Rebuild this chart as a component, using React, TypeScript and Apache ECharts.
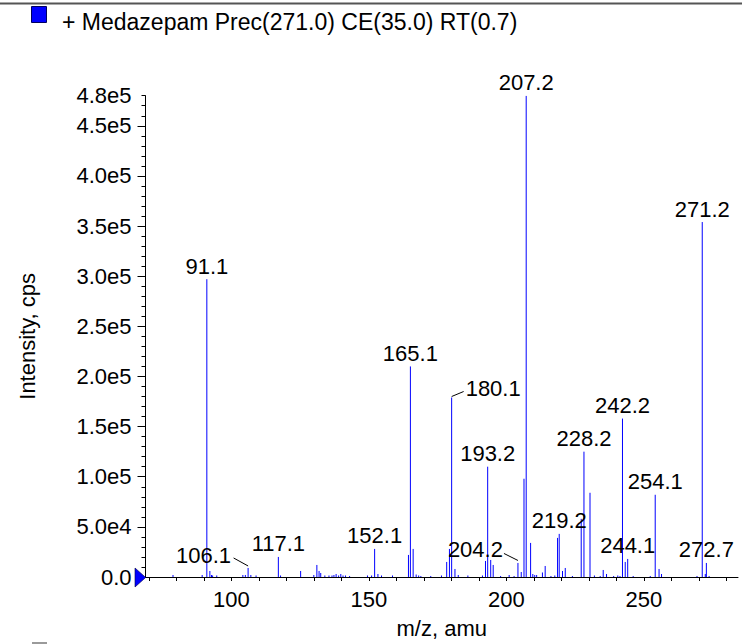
import React, { useEffect, useRef } from "react";
import * as echarts from "echarts";

// Peak list (m/z, intensity in cps)
const mz = [
  78.8, 89.4, 91.1, 92.2, 92.8, 93.2, 94.7, 104.2, 105.1, 106.1, 107.1, 109.0,
  117.1, 117.9, 125.2, 130.0, 131.1, 131.9, 132.5, 134.0, 135.5, 136.6, 137.3,
  138.1, 139.0, 139.8, 140.6, 141.5, 143.0, 149.5, 151.0, 152.1, 153.3, 154.6,
  158.6, 164.4, 165.1, 166.1, 167.2, 168.1, 168.9, 172.5, 176.4, 178.3, 179.3,
  180.1, 181.3, 182.5, 186.0, 191.3, 192.4, 193.2, 194.3, 195.2, 197.9, 201.0,
  202.8, 204.2, 205.4, 206.4, 207.2, 208.8, 209.6, 210.3, 211.0, 213.1, 214.1,
  216.2, 217.6, 218.6, 219.2, 220.4, 221.4, 224.0, 227.2, 228.2, 230.4, 232.0,
  234.1, 235.2, 236.4, 239.0, 240.5, 241.3, 242.2, 243.2, 244.1, 246.1, 252.3,
  254.1, 255.5, 256.4, 269.3, 271.2, 272.3, 272.7, 273.7,
];
const intensity = [
  2000, 2000, 297000, 6000, 2000, 1500, 1500, 2000, 2000, 9000, 2000, 1500,
  20000, 1500, 6000, 2000, 12000, 6000, 4000, 1500, 1500, 1500, 2000,
  3000, 1500, 3000, 1500, 1500, 1000, 1500, 1500, 28000, 3000, 1500,
  1500, 22000, 210000, 28000, 2500, 1500, 1000, 1000, 1500, 15000, 28000,
  179000, 8000, 2000, 1500, 1500, 16000, 110000, 17000, 12000, 1000, 2000,
  1000, 14000, 5000, 98000, 480000, 34000, 3000, 2000, 2000, 4500, 11000,
  1000, 1500, 39000, 43000, 6000, 9000, 1000, 58000, 125000, 84000, 1500,
  1000, 7000, 3000, 1000, 1500, 1000, 158000, 15000, 18000, 1000, 1000,
  82000, 8000, 3000, 1000, 354000, 3000, 14000, 1000,
];

// Annotated peaks
const labelMz = [91.1, 106.1, 117.1, 152.1, 165.1, 180.1, 193.2, 204.2, 207.2, 219.2, 228.2, 242.2, 244.1, 254.1, 271.2, 272.7];
const labelText = ["91.1", "106.1", "117.1", "152.1", "165.1", "180.1", "193.2", "204.2", "207.2", "219.2", "228.2", "242.2", "244.1", "254.1", "271.2", "272.7"];

// Axis ticks / labels
const xTickValues = [70, 80, 90, 100, 110, 120, 130, 140, 150, 160, 170, 180, 190, 200, 210, 220, 230, 240, 250, 260, 270, 280];
const xLabelValues = [100, 150, 200, 250];
const yMinorTicks = Array.from({ length: 49 }, (_, i) => i * 10000);
const yMajorTicks = [0, 50000, 100000, 150000, 200000, 250000, 300000, 350000, 400000, 450000];
const yLabelValues = [0, 50000, 100000, 150000, 200000, 250000, 300000, 350000, 400000, 450000, 480000];
const yLabelText = ["0.0", "5.0e4", "1.0e5", "1.5e5", "2.0e5", "2.5e5", "3.0e5", "3.5e5", "4.0e5", "4.5e5", "4.8e5"];

const title = "+ Medazepam Prec(271.0) CE(35.0) RT(0.7)";

const FONT = '"Liberation Sans", Arial, Helvetica, sans-serif';

// label placement styles (pixel offsets from peak top)
const leaderStyle: Record<string, { tx: number; ty: number; align: string; l: number[] }> = {
  "106.1": { tx: -17, ty: -12, align: "right", l: [-14.5, -10, 0, -2] },
  "204.2": { tx: -15, ty: -13, align: "right", l: [-14, -9.5, 0, -2.5] },
  "180.1": { tx: 14, ty: -9, align: "left", l: [0, -1, 12, -6] },
};

export default function App() {
  const ref = useRef<HTMLDivElement>(null);
  useEffect(() => {
    if (!ref.current) return;
    const chart = echarts.init(ref.current, undefined, { renderer: "svg" });
    const peaks = mz.map((m, i) => [m, intensity[i]]);
    const labels = labelMz.map((m, i) => {
      let best = 0;
      mz.forEach((v, j) => {
        if (Math.abs(v - m) < Math.abs(mz[best] - m)) best = j;
      });
      return [m, intensity[best], labelText[i]];
    });
    const axisFont = { fontSize: 22, fontFamily: FONT, color: "#000" };
    chart.setOption({
      animation: false,
      grid: { left: 145.5, right: 4, top: 95.7, bottom: 62 },
      xAxis: {
        type: "value",
        min: 68.8,
        max: 284.2,
        axisLine: { show: true, lineStyle: { color: "#000", width: 1 } },
        axisTick: { show: true, customValues: xTickValues, length: 4, lineStyle: { color: "#000" } },
        axisLabel: { customValues: xLabelValues, margin: 11, ...axisFont },
        splitLine: { show: false },
        name: "m/z, amu",
        nameLocation: "middle",
        nameGap: 40,
        nameTextStyle: axisFont,
      },
      yAxis: [
        {
          type: "value",
          min: 0,
          max: 480000,
          position: "left",
          axisLine: { show: true, lineStyle: { color: "#000", width: 1 } },
          axisTick: { show: true, customValues: yMinorTicks, length: 4, lineStyle: { color: "#000" } },
          axisLabel: { show: false },
          splitLine: { show: false },
          name: "Intensity, cps",
          nameLocation: "middle",
          nameGap: 107,
          nameTextStyle: axisFont,
        },
        {
          type: "value",
          min: 0,
          max: 480000,
          position: "left",
          axisLine: { show: false },
          axisTick: { show: true, customValues: yMajorTicks, length: 8, lineStyle: { color: "#000" } },
          axisLabel: {
            customValues: yLabelValues,
            margin: 14,
            formatter: (v: number) => {
              const k = yLabelValues.indexOf(v);
              return k >= 0 ? yLabelText[k] : "";
            },
            ...axisFont,
          },
          splitLine: { show: false },
        },
      ],
      series: [
        {
          type: "custom",
          data: peaks,
          clip: true,
          renderItem: (params: any, api: any) => {
            const x = api.value(0);
            const y = api.value(1);
            const p0 = api.coord([x, 0]);
            const p1 = api.coord([x, y]);
            return {
              type: "line",
              shape: { x1: p0[0], y1: p0[1], x2: p1[0], y2: p1[1] },
              style: { stroke: "#0000ff", lineWidth: 1 },
            };
          },
        },
        {
          type: "custom",
          data: labels,
          renderItem: (params: any, api: any) => {
            const x = api.value(0);
            const y = api.value(1);
            const txt = labelText[params.dataIndex];
            const p = api.coord([x, y]);
            const ls = leaderStyle[txt];
            if (ls) {
              return {
                type: "group",
                children: [
                  {
                    type: "line",
                    shape: { x1: p[0] + ls.l[0], y1: p[1] + ls.l[1], x2: p[0] + ls.l[2], y2: p[1] + ls.l[3] },
                    style: { stroke: "#000", lineWidth: 1 },
                  },
                  {
                    type: "text",
                    x: p[0] + ls.tx,
                    y: p[1] + ls.ty,
                    style: {
                      text: txt,
                      font: `22px ${FONT}`,
                      fill: "#000",
                      align: ls.align,
                      textAlign: ls.align,
                      verticalAlign: "middle",
                      textVerticalAlign: "middle",
                    },
                  },
                ],
              };
            }
            return {
              type: "text",
              x: p[0],
              y: p[1] - 13,
              style: {
                text: txt,
                font: `22px ${FONT}`,
                fill: "#000",
                align: "center",
                textAlign: "center",
                verticalAlign: "middle",
                textVerticalAlign: "middle",
              },
            };
          },
        },
      ],
      graphic: [
        {
          type: "line",
          shape: { x1: 0, y1: 3.5, x2: 742, y2: 3.5 },
          style: { stroke: "#555", lineWidth: 2 },
        },
        {
          type: "rect",
          shape: { x: 31.5, y: 6.5, width: 15, height: 16 },
          style: { fill: "#0000ff", stroke: "#000060", lineWidth: 1 },
        },
        {
          type: "text",
          x: 62,
          y: 22,
          style: {
            text: title,
            fontSize: 23,
            fontFamily: FONT,
            fill: "#000",
            verticalAlign: "middle",
            textVerticalAlign: "middle",
          },
        },
        {
          type: "polygon",
          shape: { points: [[135, 568], [145.7, 577.5], [135, 587]] },
          style: { fill: "#0000ff", stroke: "#000040", lineWidth: 0.6 },
          z: 100,
        },
        {
          type: "rect",
          shape: { x: 32, y: 642, width: 15, height: 2 },
          style: { fill: "#9a9a9a" },
        },
      ],
    });
    return () => chart.dispose();
  }, []);
  return (
    <div
      ref={ref}
      style={{ position: "fixed", left: 0, top: 0, width: 742, height: 644, background: "#fff" }}
    />
  );
}
